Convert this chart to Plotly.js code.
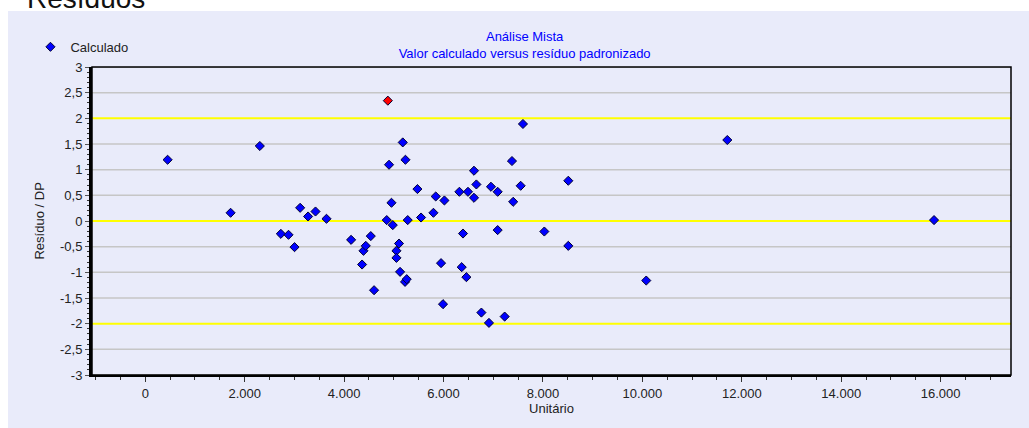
<!DOCTYPE html>
<html>
<head>
<meta charset="utf-8">
<script src="https://cdn.plot.ly/plotly-3.0.1.min.js"></script>
<style>
  html, body { margin: 0; padding: 0; background: #ffffff; width: 1029px; height: 428px; overflow: hidden; }
  #hdr { position: absolute; left: 27px; top: -15px; font-family: "Liberation Sans", Arial, sans-serif; font-size: 28px; line-height: 28px; color: #111; white-space: nowrap; }
  #chart { position: absolute; left: 8px; top: 11px; width: 1021px; height: 417px; }
</style>
</head>
<body>
<div id="hdr">Resíduos</div>
<div id="chart"></div>
<script>
// Valor calculado (Unitário)
const calculado = [
  450, 1717, 2305, 2728, 2882, 3003, 3116, 3276, 3425, 3646,
  4141, 4362, 4390, 4436, 4537, 4603, 4858, 4880, 4904, 4953,
  4979, 5053, 5053, 5105, 5126, 5180, 5226, 5234, 5260, 5280,
  5475, 5548, 5797, 5843, 5950, 5990, 6018, 6319, 6366, 6392,
  6460, 6492, 6613, 6613, 6661, 6762, 6914, 6955, 7089, 7089,
  7230, 7377, 7401, 7552, 7598, 8028, 8510, 8510, 10078, 11708,
  15867
];
// Resíduo padronizado (Resíduo / DP)
const residuo = [
  1.193, 0.160, 1.461, -0.250, -0.269, -0.509, 0.257, 0.088, 0.185, 0.043,
  -0.367, -0.848, -0.581, -0.484, -0.294, -1.348, 0.018, 2.344, 1.096, 0.355,
  -0.080, -0.581, -0.718, -0.439, -0.991, 1.531, -1.186, 1.193, -1.133, 0.018,
  0.622, 0.068, 0.160, 0.478, -0.821, -1.620, 0.400, 0.569, -0.899, -0.244,
  -1.094, 0.569, 0.979, 0.452, 0.712, -1.784, -1.985, 0.667, 0.569, -0.177,
  -1.862, 1.168, 0.374, 0.686, 1.890, -0.205, 0.784, -0.484, -1.160, 1.578,
  0.018
];
const limitLines = [-2, 0, 2];
const yTickVals = [-3, -2.5, -2, -1.5, -1, -0.5, 0, 0.5, 1, 1.5, 2, 2.5, 3];
const yTickText = ["-3", "-2,5", "-2", "-1,5", "-1", "-0,5", "0", "0,5", "1", "1,5", "2", "2,5", "3"];

const FONT = "Liberation Sans, Arial, sans-serif";
const BG = "#E9EBFA";

const colors = residuo.map(v => Math.abs(v) > 2 ? "#FF0000" : "#0000FF");

const trace = {
  type: "scatter",
  mode: "markers",
  name: "Calculado",
  x: calculado,
  y: residuo,
  marker: { symbol: "diamond", size: 7, color: colors, line: { color: "#000033", width: 1 } },
  cliponaxis: false,
  hoverinfo: "x+y"
};

// grey grid lines, then yellow limit lines on top of them (both under the markers)
const shapes = yTickVals.filter(v => !limitLines.includes(v)).map(v => ({
  type: "line", xref: "paper", x0: 0, x1: 1, yref: "y", y0: v, y1: v,
  line: { color: "#C6C6C6", width: 1.5 }, layer: "below"
}));
limitLines.forEach(v => shapes.push({
  type: "line", xref: "paper", x0: 0, x1: 1, yref: "y", y0: v, y1: v,
  line: { color: "#FFFF00", width: 2 }, layer: "below"
}));
shapes.push({
  type: "rect", xref: "paper", yref: "paper", x0: 0, x1: 1, y0: 0, y1: 1,
  line: { color: "#000000", width: 1.5 }, layer: "above"
});

const layout = {
  width: 1021, height: 417,
  paper_bgcolor: BG, plot_bgcolor: BG,
  separators: ",.",
  font: { family: FONT, size: 13, color: "#222222" },
  margin: { l: 84, r: 18, t: 56, b: 53, autoexpand: false },
  title: {
    text: "Análise Mista<br>Valor calculado versus resíduo padronizado",
    font: { family: FONT, size: 13, color: "#0000FF" },
    xref: "container", x: 0.506, xanchor: "center",
    yref: "container", y: 0.929, yanchor: "top"
  },
  showlegend: true,
  legend: {
    xref: "container", x: 0.022, xanchor: "left",
    yref: "container", y: 0.914, yanchor: "middle",
    bgcolor: "rgba(0,0,0,0)", font: { family: FONT, size: 13, color: "#222" },
    itemwidth: 30
  },
  xaxis: {
    range: [-1071, 17415],
    tick0: 0, dtick: 2000, tickformat: ",d",
    ticks: "outside", ticklen: 5, tickcolor: "#333", tickwidth: 1,
    ticklabelstandoff: 0,
    showgrid: false, zeroline: false,
    showline: true, linecolor: "#000", linewidth: 2,
    automargin: false,
    minor: { tickmode: "linear", tick0: 0, dtick: 500, ticks: "outside", ticklen: 3, tickcolor: "#333", showgrid: false },
    title: { text: "Unitário", font: { family: FONT, size: 13, color: "#222" }, standoff: 4 },
    fixedrange: true
  },
  yaxis: {
    range: [-3, 3],
    tickmode: "array", tickvals: yTickVals, ticktext: yTickText,
    ticks: "outside", ticklen: 4, tickcolor: "#555", tickwidth: 1,
    showgrid: false,
    zeroline: false,
    showline: true, linecolor: "#000", linewidth: 3,
    automargin: false,
    minor: { tickmode: "linear", tick0: 0, dtick: 0.1, ticks: "outside", ticklen: 2, tickcolor: "#333", showgrid: false },
    fixedrange: true
  },
  annotations: [{
    text: "Resíduo / DP", textangle: -90, showarrow: false,
    xref: "paper", x: -0.0582, xanchor: "center",
    yref: "paper", y: 0.5, yanchor: "middle",
    font: { family: FONT, size: 13, color: "#222" }
  }],
  shapes: shapes
};

Plotly.newPlot("chart", [trace], layout, { displayModeBar: false, responsive: false });
</script>
</body>
</html>
